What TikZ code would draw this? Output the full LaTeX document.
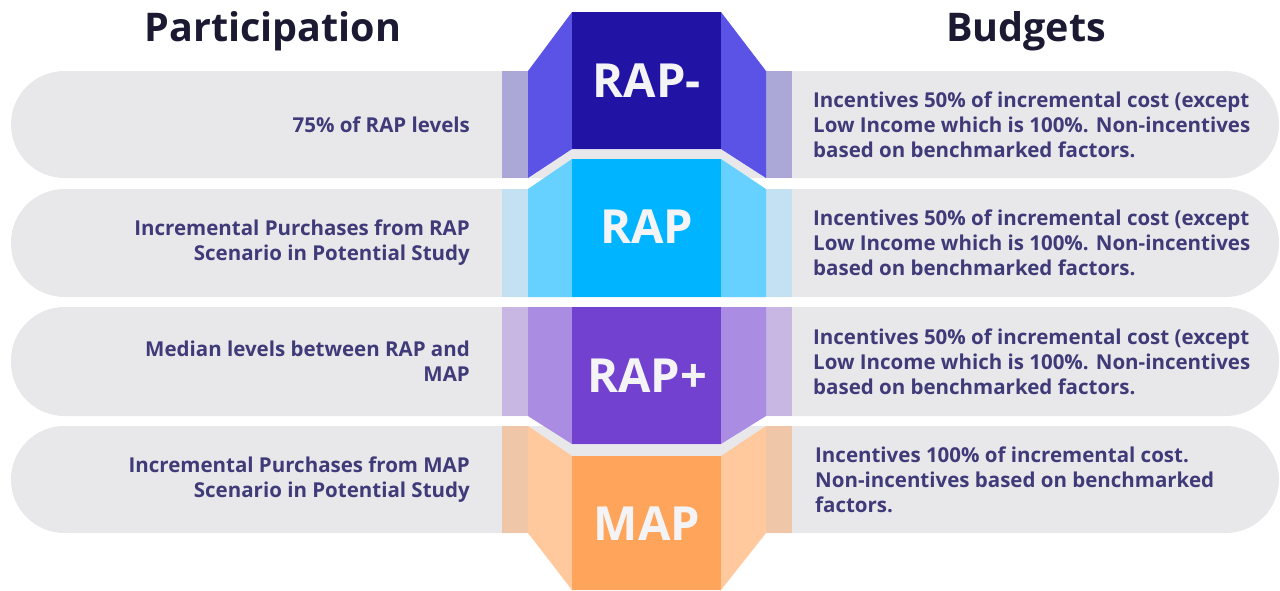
\documentclass[tikz,border=0pt]{standalone}
\usepackage{fontspec}
\usepackage{tikz}
\setmainfont{Open Sans}

\definecolor{pillgrey}{HTML}{E8E8EB}
\definecolor{txtblue}{HTML}{3F3B78}
\definecolor{headdark}{HTML}{1C1A33}
\definecolor{labwhite}{HTML}{F4F4F6}
% RAP-
\definecolor{stripA}{HTML}{ABA8D8}
\definecolor{sideA}{HTML}{5B52E6}
\definecolor{coreA}{HTML}{2114A4}
% RAP
\definecolor{stripB}{HTML}{C3E1F2}
\definecolor{sideB}{HTML}{66D1FF}
\definecolor{coreB}{HTML}{00B4FF}
% RAP+
\definecolor{stripC}{HTML}{C8B7E3}
\definecolor{sideC}{HTML}{AB8CE3}
\definecolor{coreC}{HTML}{7341D0}
% MAP
\definecolor{stripD}{HTML}{F0C6A8}
\definecolor{sideD}{HTML}{FFC89D}
\definecolor{coreD}{HTML}{FFA45B}

\tikzset{
  heading/.style = {anchor=base, inner sep=0pt, text=headdark,
                    font=\fontsize{39.5}{44}\selectfont\bfseries},
  partlabel/.style = {anchor=east, align=right, inner sep=0pt, text=txtblue,
                      font=\fontsize{20.5}{25}\selectfont\bfseries},
  budglabel/.style = {anchor=west, align=left, inner sep=0pt, text=txtblue,
                      font=\fontsize{20.5}{25}\selectfont\bfseries},
  levellabel/.style = {anchor=base, inner sep=0pt, text=labwhite,
                       font=\fontsize{47}{50}\selectfont\bfseries},
}

\begin{document}
\begin{tikzpicture}[x=1pt, y=-1pt]
            \useasboundingbox (0,0) rectangle (1280,590);

            %grey rows
            \fill[pillgrey, rounded corners=53.5pt] (11,71) rectangle (1279,178);
            \fill[pillgrey, rounded corners=53.5pt] (11,189) rectangle (1279,297);
            \fill[pillgrey, rounded corners=53.5pt] (11,307) rectangle (1279,416);
            \fill[pillgrey, rounded corners=53.5pt] (11,426) rectangle (1279,533);

            %outer strips
            \fill[stripA] (502,71) rectangle (528,178);
            \fill[stripA] (766,71) rectangle (792,178);
            \fill[stripB] (502,189) rectangle (528,297);
            \fill[stripB] (766,189) rectangle (792,297);
            \fill[stripC] (502,307) rectangle (528,416);
            \fill[stripC] (766,307) rectangle (792,416);
            \fill[stripD] (502,426) rectangle (528,533);
            \fill[stripD] (766,426) rectangle (792,533);

            %side panels
            \fill[sideA] (528,71) -- (572,12) -- (721,12) -- (766,71) -- (766,178)
                -- (721,149) -- (572,149) -- (528,178) -- cycle;
            \fill[sideB] (528,189) -- (572,159) -- (721,159) -- (766,189) -- (766,297)
                -- (528,297) -- cycle;
            \fill[sideC] (528,307) -- (766,307) -- (766,416) -- (721,444) -- (572,444)
                -- (528,416) -- cycle;
            \fill[sideD] (528,426) -- (572,456) -- (721,456) -- (766,426) -- (766,533)
                -- (721,590) -- (572,590) -- (528,533) -- cycle;

            %centre blocks
            \fill[coreA] (572,12) rectangle (721,149);
            \fill[coreB] (572,159) rectangle (721,297);
            \fill[coreC] (572,307) rectangle (721,444);
            \fill[coreD] (572,456) rectangle (721,590);

            \node[levellabel] (ramin) at (647,97) {RAP-};
            \node[levellabel] (rap) at (647,243) {RAP};
            \node[levellabel] (raplus) at (647,392) {RAP+};
            \node[levellabel] (map) at (647,540) {MAP};

            \node[heading] (parthead) at (273,41) {Participation};
            \node[heading] (budghead) at (1026,41) {Budgets};

            \node[partlabel] (part1) at (470,124.5) {75\% of RAP levels};
            \node[partlabel] (part2) at (470,243) {Incremental Purchases from RAP\\Scenario in Potential Study};
            \node[partlabel] (part3) at (470,361) {Median levels between RAP and\\MAP};
            \node[partlabel] (part4) at (470,480) {Incremental Purchases from MAP\\Scenario in Potential Study};

            \node[budglabel] (budg1) at (813,124.5) {Incentives 50\% of incremental cost (except\\Low Income which is 100\%. Non-incentives\\based on benchmarked factors.};
            \node[budglabel] (budg2) at (813,243) {Incentives 50\% of incremental cost (except\\Low Income which is 100\%. Non-incentives\\based on benchmarked factors.};
            \node[budglabel] (budg3) at (813,361.5) {Incentives 50\% of incremental cost (except\\Low Income which is 100\%. Non-incentives\\based on benchmarked factors.};
            \node[budglabel] (budg4) at (815,479.5) {Incentives 100\% of incremental cost.\\Non-incentives based on benchmarked\\factors.};

            \end{tikzpicture}
\end{document}
